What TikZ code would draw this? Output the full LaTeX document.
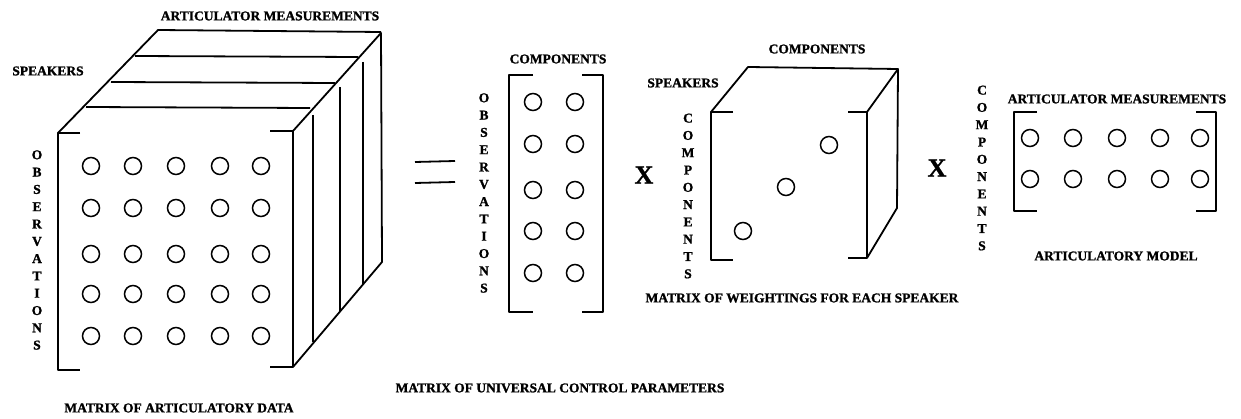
\documentclass[tikz,border=0pt]{standalone}
\usepackage{fontspec}
\setmainfont{Liberation Serif}[BoldFeatures={FakeBold=1.2}]
\usetikzlibrary{positioning}

\begin{document}
\begin{tikzpicture}[x=1pt, y=-1pt,
  pen/.style={line width=1.8pt, line join=round},
  dot/.style={circle, draw, line width=1.5pt, minimum size=17pt, inner sep=0pt},
  lbl/.style={font=\bfseries\fontsize{13.5}{16}\selectfont, inner sep=0pt},
  vlbl/.style={font=\bfseries\fontsize{13.5}{17.3}\selectfont, align=center, inner sep=0pt},
  times/.style={font=\bfseries\fontsize{26}{28}\selectfont, inner sep=0pt}
]
\useasboundingbox (0,0) rectangle (1241,419);

% data cube
\draw[pen] (80,133) -- (58,133) -- (58,370) -- (80,370);
\draw[pen] (270,131) -- (293,131) -- (293,367) -- (270,367);
\draw[pen] (58,133) -- (158,30) -- (381,32);
\draw[pen] (293,131) -- (381,33) -- (382,262) -- (293,367);
\draw[pen] (135,56) -- (358,57);
\draw[pen] (111,82) -- (335,83);
\draw[pen] (86,107) -- (310,108);
\draw[pen] (313,115) -- (313,342);
\draw[pen] (340,87) -- (340,312);
\draw[pen] (363,62) -- (363,285);
\foreach \x in {91,133,176,220,261}
  \foreach \y in {166,208,254,294,336}
    \node[dot] at (\x,\y) {};
\node[lbl] (meas1) at (270,16) {ARTICULATOR MEASUREMENTS};
\node[lbl] (spk1) at (48,71) {SPEAKERS};
\node[vlbl] (obs1) at (37,250) {O\\B\\S\\E\\R\\V\\A\\T\\I\\O\\N\\S};
\node[lbl] (data) at (179,408) {MATRIX OF ARTICULATORY DATA};

% equals
\draw[pen] (415,162) -- (455,161);
\draw[pen] (415,183) -- (455,182);

% control parameters
\draw[pen] (533,75) -- (509,75) -- (509,312) -- (533,312);
\draw[pen] (582,75) -- (603,75) -- (603,312) -- (582,312);
\foreach \x in {533,575}
  \foreach \y in {102,144,190,231,273}
    \node[dot] at (\x,\y) {};
\node[lbl] (comp1) at (558,59) {COMPONENTS};
\node[vlbl] (obs2) at (484,193) {O\\B\\S\\E\\R\\V\\A\\T\\I\\O\\N\\S};
\node[lbl] (ucp) at (560,388) {MATRIX OF UNIVERSAL CONTROL PARAMETERS};
\node[times] (x1) at (644,175) {X};

% weightings cube
\draw[pen] (733,112) -- (711,112) -- (711,260) -- (733,260);
\draw[pen] (848,112) -- (867,112) -- (867,258) -- (848,258);
\draw[pen] (711,112) -- (748,67) -- (898,69);
\draw[pen] (867,112) -- (898,69) -- (897,208) -- (867,258);
\node[dot] at (829,145) {};
\node[dot] at (786,187) {};
\node[dot] at (743,231) {};
\node[lbl] (comp2) at (817,49) {COMPONENTS};
\node[lbl] (spk2) at (683,83) {SPEAKERS};
\node[vlbl] (comp3) at (688,196) {C\\O\\M\\P\\O\\N\\E\\N\\T\\S};
\node[lbl] (wts) at (802,298) {MATRIX OF WEIGHTINGS FOR EACH SPEAKER};
\node[times] (x2) at (937,168) {X};

% articulatory model
\draw[pen] (1037,112) -- (1014,112) -- (1014,211) -- (1037,211);
\draw[pen] (1196,112) -- (1216,112) -- (1216,211) -- (1196,211);
\foreach \x in {1030,1073,1117,1160,1200}
  \foreach \y in {138,179}
    \node[dot] at (\x,\y) {};
\node[vlbl] (comp4) at (982,168) {C\\O\\M\\P\\O\\N\\E\\N\\T\\S};
\node[lbl] (meas2) at (1117,99) {ARTICULATOR MEASUREMENTS};
\node[lbl] (model) at (1116,256) {ARTICULATORY MODEL};
\end{tikzpicture}
\end{document}
